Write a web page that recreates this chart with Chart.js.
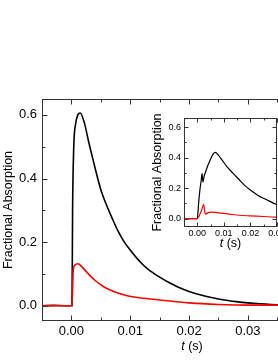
<!DOCTYPE html>
<html>
<head>
<meta charset="utf-8">
<script src="https://cdn.jsdelivr.net/npm/chart.js@4.4.0/dist/chart.umd.min.js"></script>
<style>
  html, body { margin: 0; padding: 0; background: #fff; overflow: hidden; }
  #wrap { position: relative; width: 278px; height: 360px; overflow: hidden; }
  #mainChart { position: absolute; left: 0; top: 0; }
  #insetChart { position: absolute; left: 140px; top: 100px; }
</style>
</head>
<body>
<div id="wrap">
  <canvas id="mainChart" width="345" height="360"></canvas>
  <canvas id="insetChart" width="140" height="155"></canvas>
</div>
<script>
// main panel, black trace
const mainBlackT = [-0.005, -0.003, -0.001, 0.0001, 0.0002, 0.0004, 0.0007, 0.0011, 0.0015, 0.0022, 0.0030, 0.0036, 0.0042, 0.0050, 0.0060, 0.0070, 0.0080, 0.0090, 0.0100, 0.0110, 0.0120, 0.0130, 0.0140, 0.0150, 0.0160, 0.0170, 0.0180, 0.0190, 0.0200, 0.0220, 0.0240, 0.0260, 0.0280, 0.0300, 0.0320, 0.0340, 0.0360, 0.0400, 0.0460];
const mainBlackA = [0.000, 0.001, 0.000, 0.000, 0.300, 0.500, 0.570, 0.600, 0.606, 0.575, 0.510, 0.465, 0.420, 0.365, 0.315, 0.272, 0.232, 0.200, 0.175, 0.152, 0.132, 0.115, 0.102, 0.090, 0.079, 0.069, 0.060, 0.052, 0.045, 0.034, 0.025, 0.018, 0.013, 0.009, 0.006, 0.004, 0.003, 0.002, 0.001];

// main panel, red trace
const mainRedT = [-0.005, -0.003, -0.001, 0.0001, 0.0003, 0.0006, 0.0011, 0.0018, 0.0025, 0.0032, 0.0042, 0.0053, 0.0065, 0.0079, 0.0093, 0.0116, 0.0150, 0.0200, 0.0250, 0.0300, 0.0350, 0.0460];
const mainRedA = [0.000, 0.000, 0.000, 0.000, 0.110, 0.128, 0.132, 0.122, 0.108, 0.094, 0.077, 0.062, 0.050, 0.040, 0.032, 0.025, 0.018, 0.009, 0.004, 0.002, 0.002, 0.001];

// inset, black trace
const insetBlackT = [-0.005, -0.002, 0.0000, 0.0005, 0.0010, 0.0014, 0.0018, 0.0021, 0.0026, 0.0030, 0.0040, 0.0050, 0.0060, 0.0068, 0.0080, 0.0095, 0.0110, 0.0133, 0.0158, 0.0180, 0.0206, 0.0230, 0.0260, 0.0288, 0.0310];
const insetBlackA = [0.000, 0.000, 0.000, 0.100, 0.190, 0.240, 0.295, 0.240, 0.280, 0.300, 0.350, 0.390, 0.425, 0.435, 0.415, 0.380, 0.345, 0.300, 0.255, 0.215, 0.180, 0.150, 0.125, 0.100, 0.085];

// inset, red trace
const insetRedT = [-0.005, -0.002, 0.0000, 0.0004, 0.0010, 0.0014, 0.0019, 0.0024, 0.0030, 0.0040, 0.0051, 0.0070, 0.0090, 0.0120, 0.0158, 0.0200, 0.0250, 0.0290, 0.0310];
const insetRedA = [0.000, 0.000, 0.000, 0.008, 0.030, 0.045, 0.070, 0.092, 0.030, 0.038, 0.043, 0.041, 0.036, 0.030, 0.022, 0.018, 0.014, 0.010, 0.009];

// ticks
const mainXTicks = [0, 0.01, 0.02, 0.03, 0.04];
const mainXMinor = [0.005, 0.015, 0.025, 0.035, 0.045];
const mainYTicks = [0, 0.2, 0.4, 0.6];
const mainYMinor = [0.1, 0.3, 0.5];
const insetXTicks = [0, 0.01, 0.02, 0.03];
const insetXMinor = [0.005, 0.015, 0.025];
const insetYTicks = [0, 0.2, 0.4, 0.6];
const insetYMinor = [0.1, 0.3, 0.5];

const yTitle = 'Fractional Absorption';
const FONT = "'Liberation Sans', Arial, sans-serif";

Chart.defaults.font.family = FONT;
Chart.defaults.color = '#000';

const pts = (t, a) => t.map((x, i) => ({ x: x, y: a[i] }));

// box, inward ticks on all sides, and the "t (s)" title with italic t
function frameTicks(o) {
  return {
    id: 'frameTicks',
    afterDraw(chart) {
      const ctx = chart.ctx;
      const a = chart.chartArea;
      const x = chart.scales.x, y = chart.scales.y;
      ctx.save();
      ctx.strokeStyle = '#333';
      ctx.lineWidth = 1;
      const L = Math.round(a.left) + 0.5, R = Math.round(a.right) - 0.5;
      const T = Math.round(a.top) + 0.5, B = Math.round(a.bottom) - 0.5;
      ctx.strokeRect(L, T, R - L, B - T);
      ctx.beginPath();
      const xt = (vals, len) => vals.forEach(v => {
        const px = Math.round(x.getPixelForValue(v)) + 0.5;
        ctx.moveTo(px, B); ctx.lineTo(px, B - len);
        ctx.moveTo(px, T); ctx.lineTo(px, T + len);
      });
      const yt = (vals, len) => vals.forEach(v => {
        const py = Math.round(y.getPixelForValue(v)) + 0.5;
        ctx.moveTo(L, py); ctx.lineTo(L + len, py);
        ctx.moveTo(R, py); ctx.lineTo(R - len, py);
      });
      xt(o.xMajor, o.major); xt(o.xMinor, o.minor);
      yt(o.yMajor, o.major); yt(o.yMinor, o.minor);
      ctx.stroke();

      // x title
      const cx = (a.left + a.right) / 2;
      ctx.fillStyle = '#000';
      ctx.textBaseline = 'middle';
      ctx.font = 'italic ' + o.titleSize + 'px ' + FONT;
      const w1 = ctx.measureText('t').width;
      ctx.font = o.titleSize + 'px ' + FONT;
      const w2 = ctx.measureText(' (s)').width;
      const x0 = cx - (w1 + w2) / 2;
      ctx.textAlign = 'left';
      ctx.font = 'italic ' + o.titleSize + 'px ' + FONT;
      ctx.fillText('t', x0, o.titleY);
      ctx.font = o.titleSize + 'px ' + FONT;
      ctx.fillText(' (s)', x0 + w1, o.titleY);
      ctx.restore();
    }
  };
}

function makeChart(id, d) {
  return new Chart(document.getElementById(id).getContext('2d'), {
    type: 'line',
    data: {
      datasets: [{
        label: 'red',
        data: pts(d.redT, d.redA),
        borderColor: '#ff0000',
        borderWidth: d.lw,
        pointRadius: 0,
        cubicInterpolationMode: 'monotone'
      }, {
        label: 'black',
        data: pts(d.blackT, d.blackA),
        borderColor: '#000000',
        borderWidth: d.lw,
        pointRadius: 0,
        cubicInterpolationMode: 'monotone'
      }]
    },
    options: {
      responsive: false,
      animation: false,
      devicePixelRatio: 1,
      layout: { padding: { top: d.padTop, right: d.padRight, left: 0, bottom: 0 } },
      plugins: { legend: { display: false }, tooltip: { enabled: false } },
      scales: {
        x: {
          type: 'linear',
          min: d.xMin,
          max: d.xMax,
          grid: { display: false, drawTicks: false },
          border: { display: false },
          afterBuildTicks: s => { s.ticks = d.xTicks.map(v => ({ value: v })); },
          afterFit: s => { s.height = d.xHeight; s.paddingLeft = 0; s.paddingRight = 0; },
          ticks: {
            padding: d.xPad,
            font: { size: d.tickSize },
            maxRotation: 0,
            autoSkip: false,
            callback: v => Number(v).toFixed(2)
          }
        },
        y: {
          min: d.yMin,
          max: d.yMax,
          grid: { display: false, drawTicks: false },
          border: { display: false },
          afterBuildTicks: s => { s.ticks = d.yTicks.map(v => ({ value: v })); },
          afterFit: s => { s.width = d.yWidth; s.paddingTop = 0; s.paddingBottom = 0; },
          ticks: {
            padding: d.yPad,
            font: { size: d.tickSize },
            autoSkip: false,
            callback: v => Number(v).toFixed(1)
          },
          title: {
            display: true,
            text: yTitle,
            font: { size: 12.5 },
            padding: { top: d.titlePad, bottom: 0 }
          }
        }
      }
    },
    plugins: [frameTicks({
      xMajor: d.xTicks, xMinor: d.xMinor, yMajor: d.yTicks, yMinor: d.yMinor,
      major: d.major, minor: d.minor, titleSize: 12.5, titleY: d.titleY
    })]
  });
}

makeChart('mainChart', {
  blackT: mainBlackT, blackA: mainBlackA, redT: mainRedT, redA: mainRedA,
  lw: 1.6, padTop: 99, padRight: 3,
  xMin: -0.005, xMax: 0.046, yMin: -0.048, yMax: 0.65,
  xTicks: mainXTicks, xMinor: mainXMinor, yTicks: mainYTicks, yMinor: mainYMinor,
  xHeight: 39, yWidth: 42, xPad: 3, yPad: 5, tickSize: 13, titlePad: 1.5,
  major: 5, minor: 3, titleY: 347
});

makeChart('insetChart', {
  blackT: insetBlackT, blackA: insetBlackA, redT: insetRedT, redA: insetRedA,
  lw: 1.2, padTop: 18, padRight: 3,
  xMin: -0.005, xMax: 0.03, yMin: -0.055, yMax: 0.66,
  xTicks: insetXTicks, xMinor: insetXMinor, yTicks: insetYTicks, yMinor: insetYMinor,
  xHeight: 28, yWidth: 44, xPad: 1, yPad: 3, tickSize: 9, titlePad: 10.5,
  major: 4, minor: 2, titleY: 144
});
</script>
</body>
</html>
